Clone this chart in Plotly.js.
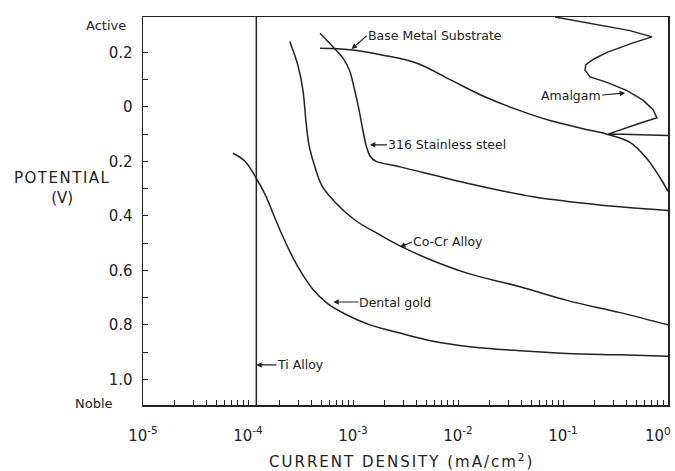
<!DOCTYPE html>
<html>
<head>
<meta charset="utf-8">
<script src="https://cdn.plot.ly/plotly-3.0.1.min.js"></script>
<style>html,body{margin:0;padding:0;background:#fff;}#chart{width:675px;height:471px;}</style>
</head>
<body>
<div id="chart"></div>
<script>
// ---- Data (current density in mA/cm^2, potential in V) ----
const tiAlloyX = [1.2e-4, 1.2e-4];
const tiAlloyY = [-0.33, 1.094];

const dentalGoldX = [7.2e-5, 9.4e-5, 1.19e-4, 1.45e-4, 1.73e-4, 2.06e-4, 2.5e-4, 3.13e-4, 4.16e-4, 5.65e-4, 8.4e-4, 1.45e-3, 2.8e-3, 5.8e-3, 0.013, 0.039, 0.109, 0.35, 1.0];
const dentalGoldY = [0.17, 0.20, 0.26, 0.32, 0.39, 0.46, 0.53, 0.60, 0.67, 0.72, 0.76, 0.80, 0.83, 0.86, 0.88, 0.895, 0.905, 0.91, 0.915];

const coCrX = [2.5e-4, 3.0e-4, 3.34e-4, 3.56e-4, 3.81e-4, 4.26e-4, 5.07e-4, 6.75e-4, 1.04e-3, 1.81e-3, 2.8e-3, 5.4e-3, 0.0122, 0.039, 0.109, 0.35, 1.0];
const coCrY = [-0.24, -0.15, -0.06, 0.05, 0.14, 0.21, 0.29, 0.35, 0.415, 0.47, 0.51, 0.56, 0.61, 0.66, 0.71, 0.755, 0.80];

const ssX = [4.85e-4, 6.46e-4, 8.0e-4, 9.35e-4, 1.04e-3, 1.14e-3, 1.22e-3, 1.33e-3, 1.45e-3, 1.66e-3, 2.8e-3, 0.0122, 0.0518, 0.225, 1.0];
const ssY = [-0.27, -0.22, -0.18, -0.13, -0.06, 0.01, 0.07, 0.14, 0.18, 0.20, 0.22, 0.28, 0.33, 0.36, 0.38];

const baseMetalX = [4.85e-4, 9.35e-4, 1.93e-3, 4.07e-3, 8.4e-3, 0.0173, 0.0365, 0.0752, 0.155, 0.262, 0.435, 0.631, 0.84, 1.0];
const baseMetalY = [-0.215, -0.21, -0.19, -0.16, -0.10, -0.04, 0.01, 0.05, 0.08, 0.10, 0.13, 0.19, 0.26, 0.31];

const amalgamX = [0.084, 0.225, 0.435, 0.705, 0.465, 0.262, 0.195, 0.165, 0.162, 0.181, 0.262, 0.407, 0.578, 0.72, 0.785, 0.54, 0.372, 0.269, 0.372, 1.0];
const amalgamY = [-0.33, -0.30, -0.28, -0.257, -0.235, -0.20, -0.175, -0.155, -0.135, -0.11, -0.09, -0.06, -0.025, 0.01, 0.04, 0.06, 0.08, 0.10, 0.10, 0.105];

// ---- Tick labels ----
const xDecades = [1e-5, 1e-4, 1e-3, 1e-2, 1e-1];
const xDecadeLabels = ['10<sup>-5</sup>', '10<sup>-4</sup>', '10<sup>-3</sup>', '10<sup>-2</sup>', '10<sup>-1</sup>'];
const xLastLabel = '10<sup>0</sup>';   // drawn at the right end of the axis
const yTickVals = [-0.2, -0.1, 0, 0.1, 0.2, 0.3, 0.4, 0.5, 0.6, 0.7, 0.8, 0.9, 1.0];
const yTickText = ['0.2', '', '0', '', '0.2', '', '0.4', '', '0.6', '', '0.8', '', '1.0'];

// log tick positions (decades + 2..9 minor), labels only at decades
const xTickVals = [], xTickText = [];
xDecades.forEach((d, i) => {
  xTickVals.push(d); xTickText.push(xDecadeLabels[i]);
  for (let k = 2; k <= 9; k++) { xTickVals.push(k * d); xTickText.push(''); }
});

const ink = '#222';
function curve(x, y, smooth) {
  const line = {color: ink, width: 1.5};
  if (smooth) { line.shape = 'spline'; line.smoothing = smooth; }
  return {x: x, y: y, type: 'scatter', mode: 'lines', line: line, showlegend: false, hoverinfo: 'skip'};
}
const traces = [
  curve(tiAlloyX, tiAlloyY, 0),
  curve(dentalGoldX, dentalGoldY, 1),
  curve(coCrX, coCrY, 1),
  curve(ssX, ssY, 0.7),
  curve(baseMetalX, baseMetalY, 1),
  curve(amalgamX, amalgamY, 0)
];

const labFont = {family: 'DejaVu Sans', size: 12.5, color: ink};
function arrowLabel(text, xVal, yVal, ax, ay, anchor) {
  return {text: text, x: Math.log10(xVal), y: yVal, xref: 'x', yref: 'y',
    showarrow: true, arrowhead: 2, arrowsize: 0.9, arrowwidth: 1.2, arrowcolor: ink,
    ax: ax, ay: ay, xanchor: anchor, yanchor: 'middle', font: labFont, standoff: 0, borderpad: 0};
}
const tickFont = {family: 'DejaVu Sans', size: 15, color: ink};

const layout = {
  width: 675, height: 471,
  margin: {l: 143, r: 7, t: 17, b: 66},
  paper_bgcolor: '#fff', plot_bgcolor: '#fff',
  showlegend: false,
  xaxis: {
    type: 'log', range: [-5, 0],
    tickmode: 'array', tickvals: xTickVals, ticktext: xTickText, tickangle: 0,
    ticks: 'inside', ticklen: 5, tickwidth: 1, tickcolor: ink,
    showline: true, linecolor: ink, linewidth: 1.5, mirror: true,
    showgrid: false, zeroline: false,
    tickfont: tickFont,
    ticklabelstandoff: 16
  },
  yaxis: {
    range: [1.094, -0.33],
    tickmode: 'array', tickvals: yTickVals, ticktext: yTickText, tickangle: 0,
    ticks: 'inside', ticklen: 5, tickwidth: 1, tickcolor: ink,
    showline: true, linecolor: ink, linewidth: 1.5, mirror: true,
    showgrid: false, zeroline: false,
    tickfont: tickFont,
    ticklabelstandoff: 6
  },
  annotations: [
    arrowLabel('Base Metal Substrate', 9.7e-4, -0.213, 15, -13, 'left'),
    arrowLabel('316 Stainless steel', 1.45e-3, 0.139, 17, 0, 'left'),
    arrowLabel('Co-Cr Alloy', 2.8e-3, 0.514, 12, -5, 'left'),
    arrowLabel('Dental gold', 6.5e-4, 0.716, 25, 0, 'left'),
    arrowLabel('Ti Alloy', 1.2e-4, 0.947, 20, 0, 'left'),
    arrowLabel('Amalgam', 0.39, -0.051, -23, 2, 'right'),
    {text: xLastLabel, xref: 'paper', yref: 'paper', x: 1.0095, y: -0.078, xanchor: 'right', yanchor: 'middle', showarrow: false,
     font: tickFont},
    {text: 'Active', xref: 'paper', yref: 'paper', x: -0.029, y: 0.979, xanchor: 'right', yanchor: 'middle', showarrow: false,
     font: {family: 'DejaVu Sans', size: 13, color: ink}},
    {text: 'Noble', xref: 'paper', yref: 'paper', x: -0.053, y: 0.005, xanchor: 'right', yanchor: 'middle', showarrow: false,
     font: {family: 'DejaVu Sans', size: 13, color: ink}},
    {text: '<span style="letter-spacing:1.5px">POTENTIAL</span><br>(V)', xref: 'paper', yref: 'paper', x: -0.154, y: 0.559,
     xanchor: 'center', yanchor: 'middle', showarrow: false, align: 'center',
     font: {family: 'DejaVu Sans', size: 15, color: ink}},
    {text: '<span style="letter-spacing:2px">CURRENT DENSITY (mA/cm<sup>2</sup>)</span>', xref: 'paper', yref: 'paper', x: 0.236, y: -0.144,
     xanchor: 'left', yanchor: 'middle', showarrow: false,
     font: {family: 'DejaVu Sans', size: 15, color: ink}}
  ]
};

Plotly.newPlot('chart', traces, layout, {staticPlot: true, displayModeBar: false});
</script>
</body>
</html>
